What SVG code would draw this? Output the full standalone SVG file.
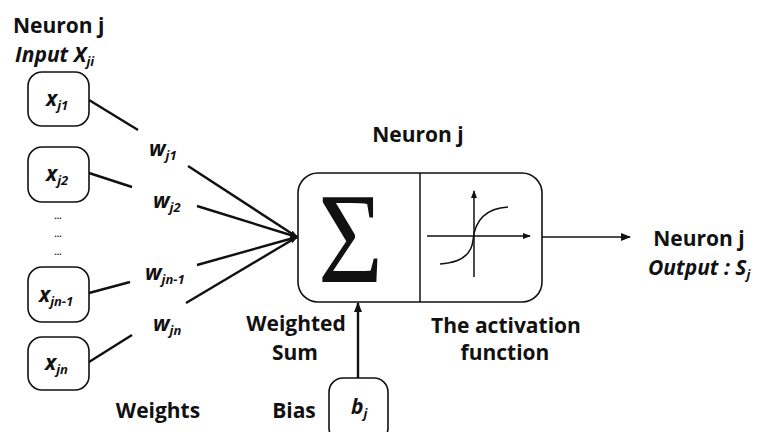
<svg xmlns="http://www.w3.org/2000/svg" width="761" height="432" viewBox="0 0 761 432">
<style>
.t{font-family:"Open Sans","Liberation Sans",sans-serif;font-weight:bold;font-size:21px;fill:#111}
.i{font-family:"Open Sans","Liberation Sans",sans-serif;font-weight:bold;font-style:italic;font-size:21px;fill:#111}
.s{font-size:13px}
.box{fill:#fff;stroke:#111;stroke-width:1.6}
.ln{stroke:#111;stroke-width:2.4;fill:none}
.ax{stroke:#111;stroke-width:1.5;fill:none}
</style>
<defs>
<marker id="ah" markerWidth="10" markerHeight="8" refX="9" refY="4" orient="auto" markerUnits="userSpaceOnUse">
<path d="M0,0 L10,4 L0,8 Z" fill="#111"/>
</marker>
<marker id="as" markerWidth="8" markerHeight="6" refX="7" refY="3" orient="auto" markerUnits="userSpaceOnUse">
<path d="M0,0 L8,3 L0,6 Z" fill="#111"/>
</marker>
</defs>
<rect width="761" height="432" fill="#fff"/>

<g id="header">
<text class="t" x="13" y="33">Neuron j</text>
<text class="i" x="15" y="62">Input X<tspan class="s" dy="4">ji</tspan></text>
</g>

<g id="connectors">
<line class="ln" x1="89" y1="100" x2="138" y2="130"/>
<line class="ln" x1="89" y1="173" x2="132" y2="187"/>
<line class="ln" x1="89" y1="293" x2="130" y2="282"/>
<line class="ln" x1="89" y1="362" x2="132" y2="335"/>
<line class="ln" x1="188" y1="166" x2="297" y2="237" marker-end="url(#as)"/>
<line class="ln" x1="197" y1="206" x2="297" y2="237" marker-end="url(#as)"/>
<line class="ln" x1="197" y1="265" x2="297" y2="237" marker-end="url(#as)"/>
<line class="ln" x1="186" y1="303" x2="297" y2="237" marker-end="url(#as)"/>
<line class="ax" x1="542" y1="237" x2="630" y2="237" marker-end="url(#ah)"/>
<line class="ln" x1="358" y1="378" x2="358" y2="303" marker-end="url(#ah)"/>
</g>

<g id="x1">
<rect class="box" x="28" y="72" width="61" height="54" rx="14"/>
<text class="i" x="46" y="106">x<tspan class="s" dy="4">j1</tspan></text>
</g>
<g id="x2">
<rect class="box" x="28" y="147" width="61" height="55" rx="14"/>
<text class="i" x="46" y="181">x<tspan class="s" dy="4">j2</tspan></text>
</g>
<g id="dots">
<text class="t" x="58" y="219" text-anchor="middle" style="font-size:9px">...</text>
<text class="t" x="58" y="237" text-anchor="middle" style="font-size:9px">...</text>
<text class="t" x="58" y="255" text-anchor="middle" style="font-size:9px">...</text>
</g>
<g id="xn1">
<rect class="box" x="28" y="267" width="61" height="55" rx="14"/>
<text class="i" x="39" y="302">x<tspan class="s" dy="4">jn-1</tspan></text>
</g>
<g id="xn">
<rect class="box" x="28" y="337" width="61" height="53" rx="14"/>
<text class="i" x="45" y="370">x<tspan class="s" dy="4">jn</tspan></text>
</g>

<g id="weights">
<text class="i" x="149" y="156">w<tspan class="s" dy="4">j1</tspan></text>
<text class="i" x="153" y="208">w<tspan class="s" dy="4">j2</tspan></text>
<text class="i" x="145" y="280">w<tspan class="s" dy="4">jn-1</tspan></text>
<text class="i" x="153" y="331">w<tspan class="s" dy="4">jn</tspan></text>
<text class="t" x="158" y="418" text-anchor="middle">Weights</text>
</g>

<g id="neuron">
<text class="t" x="418" y="142" text-anchor="middle">Neuron j</text>
<rect class="box" x="298" y="173" width="244" height="129" rx="20"/>
<line class="ax" x1="420" y1="173" x2="420" y2="302"/>
<text x="318" y="282" textLength="65" lengthAdjust="spacingAndGlyphs" style="font-family:'Liberation Serif','DejaVu Serif',serif;font-size:130px;fill:#111">Σ</text>
<line class="ax" x1="474" y1="277" x2="474" y2="191" marker-end="url(#as)"/>
<line class="ax" x1="427" y1="236" x2="530" y2="236" marker-end="url(#as)"/>
<path class="ax" d="M440,264 Q471,262 473,240 Q476,209 508,207"/>
<text class="t" x="296" y="331" text-anchor="middle">Weighted</text>
<text class="t" x="295" y="360" text-anchor="middle">Sum</text>
<text class="t" x="506" y="333" text-anchor="middle">The activation</text>
<text class="t" x="505" y="360" text-anchor="middle">function</text>
</g>

<g id="bias">
<rect class="box" x="329" y="378" width="59" height="64" rx="14"/>
<text class="i" x="351" y="414">b<tspan class="s" dy="4">j</tspan></text>
<text class="t" x="294" y="418" text-anchor="middle">Bias</text>
</g>

<g id="output">
<text class="t" x="699" y="246" text-anchor="middle">Neuron j</text>
<text class="i" x="648" y="275">Output : S<tspan class="s" dy="4">j</tspan></text>
</g>
</svg>
